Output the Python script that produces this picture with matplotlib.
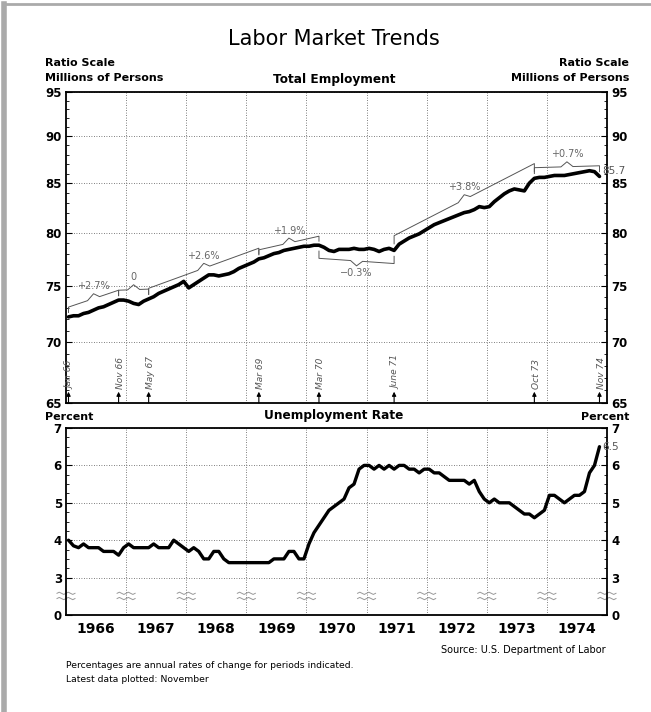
import numpy as np
import matplotlib.pyplot as plt
from matplotlib.ticker import FixedLocator, FixedFormatter, NullFormatter
from matplotlib.lines import Line2D

# monthly values, Jan 1966 - Nov 1974
employment = [
    72.2, 72.3, 72.3, 72.5, 72.6, 72.8, 73.0, 73.1, 73.3, 73.5, 73.7, 73.7,
    73.6, 73.4, 73.3, 73.6, 73.8, 74.0, 74.3, 74.5, 74.7, 74.9, 75.1, 75.4,
    74.8, 75.1, 75.4, 75.7, 76.0, 76.0, 75.9, 76.0, 76.1, 76.3, 76.6, 76.8,
    77.0, 77.2, 77.5, 77.6, 77.8, 78.0, 78.1, 78.3, 78.4, 78.5, 78.6, 78.7,
    78.7, 78.8, 78.8, 78.6, 78.3, 78.2, 78.4, 78.4, 78.4, 78.5, 78.4, 78.4,
    78.5, 78.4, 78.2, 78.4, 78.5, 78.3, 78.9, 79.2, 79.5, 79.7, 79.9, 80.2,
    80.5, 80.8, 81.0, 81.2, 81.4, 81.6, 81.8, 82.0, 82.1, 82.3, 82.6, 82.5,
    82.6, 83.1, 83.5, 83.9, 84.2, 84.4, 84.3, 84.2, 85.0, 85.5, 85.6, 85.6,
    85.7, 85.8, 85.8, 85.8, 85.9, 86.0, 86.1, 86.2, 86.3, 86.2, 85.7,
]
unemployment = [
    4.0, 3.85, 3.8, 3.9, 3.8, 3.8, 3.8, 3.7, 3.7, 3.7, 3.6, 3.8,
    3.9, 3.8, 3.8, 3.8, 3.8, 3.9, 3.8, 3.8, 3.8, 4.0, 3.9, 3.8,
    3.7, 3.8, 3.7, 3.5, 3.5, 3.7, 3.7, 3.5, 3.4, 3.4, 3.4, 3.4,
    3.4, 3.4, 3.4, 3.4, 3.4, 3.5, 3.5, 3.5, 3.7, 3.7, 3.5, 3.5,
    3.9, 4.2, 4.4, 4.6, 4.8, 4.9, 5.0, 5.1, 5.4, 5.5, 5.9, 6.0,
    6.0, 5.9, 6.0, 5.9, 6.0, 5.9, 6.0, 6.0, 5.9, 5.9, 5.8, 5.9,
    5.9, 5.8, 5.8, 5.7, 5.6, 5.6, 5.6, 5.6, 5.5, 5.6, 5.3, 5.1,
    5.0, 5.1, 5.0, 5.0, 5.0, 4.9, 4.8, 4.7, 4.7, 4.6, 4.7, 4.8,
    5.2, 5.2, 5.1, 5.0, 5.1, 5.2, 5.2, 5.3, 5.8, 6.0, 6.5,
]

years = list(range(1966, 1975))
emp_ticks = [65, 70, 75, 80, 85, 90, 95]
unemp_ticks = [2, 3, 4, 5, 6, 7]
unemp_tick_labels = ["0", "3", "4", "5", "6", "7"]

# periods used for the growth-rate brackets
break_names = ["Jan 66", "Nov 66", "May 67", "Mar 69", "Mar 70", "June 71", "Oct 73", "Nov 74"]
break_months = [0, 10, 16, 38, 50, 65, 93, 106]
rates = ["+2.7%", "0", "+2.6%", "+1.9%", "\u22120.3%", "+3.8%", "+0.7%"]
offsets = [0.012, 0.012, 0.013, 0.011, -0.016, 0.018, 0.013]

plt.rcParams["font.family"] = "DejaVu Sans"
plt.rcParams["font.weight"] = "bold"

W, H = 651, 712


def px(x, y):
    return x / W, 1 - y / H


t = 1966 + (np.arange(len(employment)) + 0.5) / 12
emp = np.array(employment)

fig = plt.figure(figsize=(W / 100, H / 100), dpi=100)
ax1 = fig.add_axes([66 / W, 1 - 403 / H, 541 / W, 311 / H])
ax2 = fig.add_axes([66 / W, 1 - 615 / H, 541 / W, 187 / H])

grid_kw = dict(ls=(0, (1, 2)), lw=0.6, color="#555555")
light = dict(family="DejaVu Sans", weight="normal")

# ---- total employment (ratio scale)
ax1.set_yscale("log")
ax1.set_ylim(65, 95)
ax1.set_xlim(1966, 1975)
ax1.yaxis.set_major_locator(FixedLocator(emp_ticks))
ax1.yaxis.set_major_formatter(FixedFormatter([str(v) for v in emp_ticks]))
ax1.yaxis.set_minor_locator(FixedLocator(range(66, 95)))
ax1.yaxis.set_minor_formatter(NullFormatter())
ax1.set_xticks(years[1:])
ax1.tick_params(axis="x", length=0, labelbottom=False)
ax1.tick_params(axis="y", which="both", direction="in", left=True, right=True,
                labelleft=True, labelright=True, labelsize=8.5, pad=3)
ax1.tick_params(axis="y", which="major", length=4, width=0.8)
ax1.tick_params(axis="y", which="minor", length=2, width=0.6)
ax1.grid(True, which="major", **grid_kw)
ax1.plot(t, emp, color="black", lw=2.6, solid_capstyle="round")

for i in range(len(rates)):
    i0, i1, off = break_months[i], break_months[i + 1], offsets[i]
    x0, x1 = t[i0], t[i1]
    b0, b1 = np.log(emp[i0]) + off, np.log(emp[i1]) + off
    sgn = 1 if off > 0 else -1
    xm = (x0 + x1) / 2
    d = min(0.1, (x1 - x0) / 5)
    lb = lambda x: b0 + (b1 - b0) * (x - x0) / (x1 - x0)
    bx = [x0, x0, xm - d, xm, xm + d, x1, x1]
    by = [np.log(emp[i0]) + off * 0.45, b0, lb(xm - d), lb(xm) + sgn * 0.006,
          lb(xm + d), b1, np.log(emp[i1]) + off * 0.45]
    ax1.plot(bx, np.exp(by), color="#555555", lw=0.7)
    ax1.text(xm, np.exp(lb(xm) + sgn * 0.009), rates[i], ha="center",
             va="bottom" if sgn > 0 else "top", fontsize=7, color="#666666", **light)

for name, m in zip(break_names, break_months):
    ax1.annotate("", xy=(t[m], 65.9), xytext=(t[m], 65.0),
                 arrowprops=dict(arrowstyle="-|>", lw=0.8, color="black",
                                 mutation_scale=6, shrinkA=0, shrinkB=0))
    ax1.text(t[m] + 0.03, 66.15, name, rotation=90, ha="center", va="bottom",
             fontsize=6.5, style="italic", color="#555555", **light)

ax1.text(t[-1] + 0.05, 86.3, f"{employment[-1]}", ha="left", va="center",
         fontsize=7.5, color="#555555", clip_on=False, **light)

# ---- unemployment rate
ax2.set_ylim(2, 7)
ax2.set_xlim(1966, 1975)
ax2.set_yticks(unemp_ticks)
ax2.set_yticklabels(unemp_tick_labels)
ax2.yaxis.set_minor_locator(FixedLocator(np.arange(3, 7, 0.25)))
ax2.set_xticks(years[1:])
ax2.set_xticks([y + 0.5 for y in years], [str(y) for y in years], minor=True)
ax2.tick_params(axis="x", which="major", length=0, labelbottom=False)
ax2.tick_params(axis="x", which="minor", length=0, labelsize=10, pad=5)
ax2.tick_params(axis="y", which="both", direction="in", left=True, right=True,
                labelleft=True, labelright=True, labelsize=8.5, pad=3)
ax2.tick_params(axis="y", which="major", length=4, width=0.8)
ax2.tick_params(axis="y", which="minor", length=2, width=0.6)
ax2.grid(True, which="major", **grid_kw)
ax2.plot(t, unemployment, color="black", lw=2.4, solid_capstyle="round")
ax2.text(t[-1] + 0.05, unemployment[-1], f"{unemployment[-1]}", ha="left",
         va="center", fontsize=7.5, color="#555555", clip_on=False, **light)

# scale-break marks between 3 and 0
for xb in range(1966, 1976):
    xs = np.linspace(xb - 0.15, xb + 0.15, 9)
    wig = np.array([0, 1, 0, -1, 0, 1, 0, -1, 0]) * 0.03
    for yb in (2.58, 2.44):
        ax2.plot(xs, yb + wig, color="#999999", lw=0.7, clip_on=False)

for ax in (ax1, ax2):
    for s in ax.spines.values():
        s.set_linewidth(1.3)

# ---- headings and notes
fig.text(*px(334, 39), "Labor Market Trends", ha="center", va="center",
         fontsize=15, **light)
fig.text(*px(45, 63), "Ratio Scale", ha="left", va="center", fontsize=8)
fig.text(*px(45, 78), "Millions of Persons", ha="left", va="center", fontsize=8)
fig.text(*px(629, 63), "Ratio Scale", ha="right", va="center", fontsize=8)
fig.text(*px(629, 78), "Millions of Persons", ha="right", va="center", fontsize=8)
fig.text(*px(334, 79), "Total Employment", ha="center", va="center", fontsize=8.7)
fig.text(*px(45, 417), "Percent", ha="left", va="center", fontsize=8)
fig.text(*px(629, 417), "Percent", ha="right", va="center", fontsize=8)
fig.text(*px(334, 416), "Unemployment Rate", ha="center", va="center", fontsize=8.7)
fig.text(*px(606, 650), "Source: U.S. Department of Labor", ha="right", va="center",
         fontsize=7, **light)
fig.text(*px(66, 665), "Percentages are annual rates of change for periods indicated.",
         ha="left", va="center", fontsize=6.7, **light)
fig.text(*px(66, 680), "Latest data plotted: November", ha="left", va="center",
         fontsize=6.7, **light)

# scanned page edges
fig.add_artist(Line2D([0.006, 0.006], [0, 0.995], color="#aaaaaa", lw=4))
fig.add_artist(Line2D([0.006, 1], [0.995, 0.995], color="#aaaaaa", lw=2))

fig.savefig("out.png", dpi=100)
